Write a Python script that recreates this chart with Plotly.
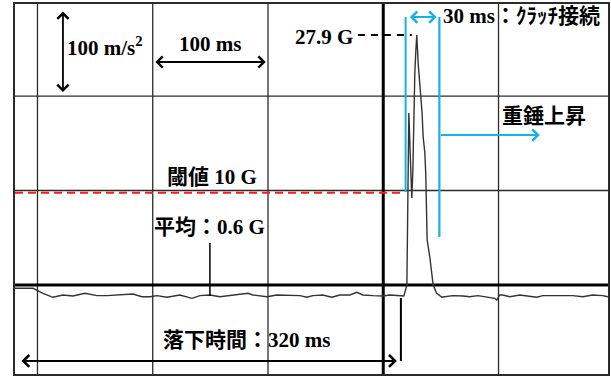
import plotly.graph_objects as go

# Oscilloscope trace: time (ms) and acceleration (m/s^2, 0 at thick centre line)
time_ms = [-19.5, -3.9, 4.8, 13.4, 22.1, 30.8, 41.2, 51.6, 60.3, 71.6, 82.8, 90.6, 97.6,
           103.6, 112.3, 123.6, 134.0, 140.9, 149.6, 158.3, 169.6, 178.3, 182.6, 186.9,
           199.1, 207.8, 219.0, 227.7, 233.7, 238.9, 247.6, 255.4, 262.4, 271.0, 277.1,
           282.3, 291.0, 299.7, 305.7, 314.4, 317.9, 320.5, 321.3, 322.2, 323.9, 324.8,
           325.7, 326.5, 327.4, 328.3, 329.1, 330.3, 331.7, 332.6, 333.7, 334.6, 336.1,
           336.9, 337.4, 338.1, 340.4, 341.9, 343.3, 346.2, 350.6, 351.8, 360.4, 369.1,
           375.1, 382.0, 389.8, 396.8, 398.5, 401.1, 403.7, 409.8, 418.5, 427.1, 433.2,
           438.4, 447.1, 455.8, 464.4, 473.1, 481.8, 490.4, 495.0]
accel = [-3.5, -3.5, -8.8, -13.0, -10.6, -11.6, -8.8, -11.3, -11.3, -10.6, -9.5, -12.4,
         -12.4, -11.3, -13.0, -10.6, -14.1, -11.3, -10.6, -12.4, -10.6, -9.5, -8.8, -10.6,
         -12.4, -10.6, -11.3, -11.3, -13.0, -11.3, -10.6, -13.0, -10.6, -10.6, -7.7, -10.6,
         -11.3, -11.6, -10.6, -11.3, -11.6, 0.0, 132.3, 182.0, 121.7, 92.1, 121.7, 195.8,
         224.3, 248.7, 264.6, 234.6, 213.4, 199.3, 182.0, 156.9, 139.7, 116.4, 97.4, 47.6,
         29.6, 10.6, 0.0, -8.5, -12.7, -12.7, -11.3, -11.6, -12.4, -11.3, -12.4, -14.1,
         -15.9, -10.6, -10.6, -12.4, -10.6, -11.6, -13.0, -11.3, -11.3, -10.6, -11.3,
         -12.4, -10.6, -11.3, -12.4]

grid_x = [0, 100, 200, 400]
grid_y = [100, 200]
thick_x = 300
thick_y = 0

threshold = 97.7          # 閾値 10 G level
peak_t, peak_a = 324.8, 264.6
clutch_t0, clutch_t1 = 319.4, 348.7
avg_t = 149.6
fall_end_t = 315.3

FONT = "Liberation Serif, Noto Sans CJK JP, serif"
BLUE = "#16b0ea"

fig = go.Figure()
fig.add_trace(go.Scatter(x=time_ms, y=accel, mode="lines",
                         line=dict(color="#333333", width=1.4), hoverinfo="skip"))

shapes = []
for gx in grid_x:
    shapes.append(dict(type="line", xref="x", yref="paper", x0=gx, x1=gx, y0=0, y1=1,
                       line=dict(color="#2b2b2b", width=1.3), layer="below"))
for gy in grid_y:
    shapes.append(dict(type="line", xref="paper", yref="y", x0=0, x1=1, y0=gy, y1=gy,
                       line=dict(color="#2b2b2b", width=1.3), layer="below"))
shapes.append(dict(type="line", xref="x", yref="paper", x0=thick_x, x1=thick_x, y0=0, y1=1,
                   line=dict(color="#000000", width=3), layer="below"))
shapes.append(dict(type="line", xref="paper", yref="y", x0=0, x1=1, y0=thick_y, y1=thick_y,
                   line=dict(color="#000000", width=3), layer="below"))
# red threshold
shapes.append(dict(type="line", xref="x", yref="y", x0=-19.5, x1=318.7, y0=threshold, y1=threshold,
                   line=dict(color="#ff1a1a", width=2, dash="8px,5px")))
# peak dashed marker
shapes.append(dict(type="line", xref="x", yref="y", x0=278.0, x1=peak_t, y0=peak_a, y1=peak_a,
                   line=dict(color="#000000", width=2, dash="7px,6px")))
# blue clutch lines
shapes.append(dict(type="line", xref="x", yref="y", x0=clutch_t0, x1=clutch_t0, y0=283.6, y1=98.4,
                   line=dict(color=BLUE, width=2)))
shapes.append(dict(type="line", xref="x", yref="y", x0=clutch_t1, x1=clutch_t1, y0=283.6, y1=50.8,
                   line=dict(color=BLUE, width=2.2)))
# average pointer
shapes.append(dict(type="line", xref="x", yref="y", x0=avg_t, x1=avg_t, y0=44.4, y1=-11.6,
                   line=dict(color="#000000", width=1.5)))
# fall-time end marker
shapes.append(dict(type="line", xref="x", yref="y", x0=fall_end_t, x1=fall_end_t, y0=-13.8, y1=-80.4,
                   line=dict(color="#000000", width=2)))


def arrow(x0, y0, x1, y1, color="#000000", both=True, width=1.8, size=1.2):
    return dict(x=x1, y=y1, ax=x0, ay=y0, xref="x", yref="y", axref="x", ayref="y",
                text="", showarrow=True, arrowhead=4, startarrowhead=4,
                arrowside="end+start" if both else "end", arrowwidth=width,
                arrowsize=size, startarrowsize=size, arrowcolor=color,
                standoff=0, startstandoff=0)


def label(x, y, text, size=21, xanchor="center"):
    return dict(x=x, y=y, xref="x", yref="y", text=text, showarrow=False,
                xanchor=xanchor, yanchor="middle",
                font=dict(family=FONT, size=size, color="#000000"))


annotations = [
    arrow(22.1, 291.0, 22.1, 204.2),
    arrow(101, 236.0, 198, 236.0),
    arrow(321.8, 283.6, 346.3, 283.6, color=BLUE, width=2, size=1.1),
    arrow(clutch_t1, 158.7, 435.8, 158.7, color=BLUE, both=False, width=2, size=1.1),
    arrow(-15.2, -80.4, 311.8, -80.4, width=2, size=1.15),
    label(59.0, 251.9, "<b>100 m/s<sup>2</sup></b>"),
    label(149.6, 255.0, "<b>100 ms</b>"),
    label(248.5, 262.4, "<b>27.9 G</b>"),
    label(350.0, 284.7, "<b>30 ms：ｸﾗｯﾁ接続</b>", xanchor="left"),
    label(439.7, 178.8, "<b>重錘上昇</b>"),
    label(151.3, 114.3, "<b>閾値 10 G</b>"),
    label(149.6, 61.4, "<b>平均：0.6 G</b>"),
    label(181.7, -58.2, "<b>落下時間：320 ms</b>"),
]

fig.update_layout(
    width=611, height=376,
    margin=dict(l=15, r=3, t=4, b=2),
    paper_bgcolor="white", plot_bgcolor="white",
    showlegend=False,
    shapes=shapes, annotations=annotations,
    xaxis=dict(range=[-19.5, 495], showgrid=False, zeroline=False, showticklabels=False,
               ticks="", showline=True, mirror=True, linecolor="#2b2b2b", linewidth=1.5),
    yaxis=dict(range=[-94.2, 297.4], showgrid=False, zeroline=False, showticklabels=False,
               ticks="", showline=True, mirror=True, linecolor="#2b2b2b", linewidth=1.5),
)

fig.write_html("out.html")
